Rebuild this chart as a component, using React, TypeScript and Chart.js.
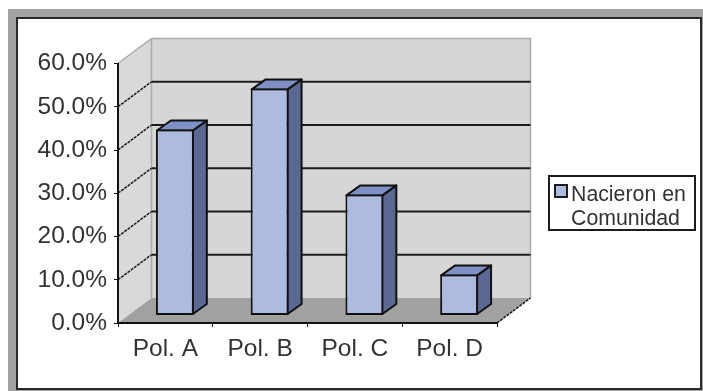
import React, { useEffect, useRef } from "react";
import { Chart, registerables } from "chart.js";

Chart.register(...registerables);

const categories = ["Pol. A", "Pol. B", "Pol. C", "Pol. D"];
const seriesValues = [43, 52.5, 28, 9.5];
const seriesName = ["Nacieron en", "Comunidad"];

const FONT = '"Liberation Sans", Arial, sans-serif';
const DEPTH = { x: 33.5, y: -25 };
const BAR_SHIFT = { x: 9.5, y: -7.5 };
const BAR_DEPTH = { x: 14, y: -10 };

const poly = (ctx: CanvasRenderingContext2D, pts: number[][], fill?: string, stroke?: string, lw = 2) => {
  ctx.beginPath();
  pts.forEach(([x, y], i) => (i ? ctx.lineTo(x, y) : ctx.moveTo(x, y)));
  ctx.closePath();
  if (fill) {
    ctx.fillStyle = fill;
    ctx.fill();
  }
  if (stroke) {
    ctx.strokeStyle = stroke;
    ctx.lineWidth = lw;
    ctx.lineJoin = "round";
    ctx.stroke();
  }
};

// Outer frame, the three walls of the box and the receding gridlines.
const box3d = {
  id: "box3d",
  beforeDraw(chart: any) {
    const { ctx, chartArea: a, scales, width, height } = chart;
    const d = DEPTH;
    ctx.save();
    ctx.fillStyle = "#a3a3a3";
    ctx.fillRect(8, 9, width - 8, height - 9);
    ctx.fillStyle = "#ffffff";
    ctx.fillRect(17, 18, 684, 371);
    ctx.strokeStyle = "#2a2a2a";
    ctx.lineWidth = 2;
    ctx.strokeRect(17, 18, 684, 371);

    const { left: l, right: r, top: t, bottom: b } = a;
    poly(ctx, [[l + d.x, t + d.y], [r + d.x, t + d.y], [r + d.x, b + d.y], [l + d.x, b + d.y]], "#d6d6d6");
    poly(ctx, [[l, t], [l + d.x, t + d.y], [l + d.x, b + d.y], [l, b]], "#d9d9d9");
    poly(ctx, [[l, b], [l + d.x, b + d.y], [r + d.x, b + d.y], [r, b]], "#a1a1a1");

    ctx.strokeStyle = "#ababab";
    ctx.lineWidth = 1.5;
    ctx.beginPath();
    ctx.moveTo(l, t);
    ctx.lineTo(l + d.x, t + d.y);
    ctx.lineTo(r + d.x, t + d.y);
    ctx.lineTo(r + d.x, b + d.y);
    ctx.moveTo(l + d.x, t + d.y);
    ctx.lineTo(l + d.x, b + d.y);
    ctx.stroke();

    scales.y.ticks.forEach((tick: any) => {
      if (tick.value === 0 || tick.value === 60) return;
      const y = scales.y.getPixelForValue(tick.value);
      ctx.strokeStyle = "#1c1c1c";
      ctx.lineWidth = 1.5;
      ctx.setLineDash([3, 1]);
      ctx.beginPath();
      ctx.moveTo(l, y);
      ctx.lineTo(l + d.x, y + d.y);
      ctx.stroke();
      ctx.setLineDash([]);
      ctx.lineWidth = 2;
      ctx.beginPath();
      ctx.moveTo(l + d.x, y + d.y);
      ctx.lineTo(r + d.x, y + d.y);
      ctx.stroke();
    });

    ctx.strokeStyle = "#1c1c1c";
    ctx.lineWidth = 1.5;
    ctx.setLineDash([3, 1]);
    ctx.beginPath();
    ctx.moveTo(r, b);
    ctx.lineTo(r + d.x, b + d.y);
    ctx.stroke();
    ctx.restore();
  },
  // The bars stand a little behind the front plane, each with a side and a top face.
  beforeDatasetDraw(chart: any, args: any) {
    const { ctx } = chart;
    ctx.save();
    ctx.translate(BAR_SHIFT.x, BAR_SHIFT.y);
    const e = BAR_DEPTH;
    args.meta.data.forEach((bar: any) => {
      const { x, y, base, width } = bar.getProps(["x", "y", "base", "width"], true);
      const x0 = x - width / 2 + 1;
      const x1 = x + width / 2 - 1;
      const top = y + 1;
      const bottom = base - 1;
      poly(ctx, [[x1, top], [x1 + e.x, top + e.y], [x1 + e.x, bottom + e.y], [x1, bottom]], "#5c6894", "#111111");
      poly(ctx, [[x0, top], [x0 + e.x, top + e.y], [x1 + e.x, top + e.y], [x1, top]], "#7f90c4", "#111111");
    });
  },
  afterDatasetDraw(chart: any) {
    chart.ctx.restore();
  },
  // Legend box with its two-line series name.
  afterDraw(chart: any) {
    const { ctx } = chart;
    ctx.save();
    ctx.fillStyle = "#ffffff";
    ctx.strokeStyle = "#1c1c1c";
    ctx.lineWidth = 2;
    ctx.fillRect(549, 176, 146, 54);
    ctx.strokeRect(549, 176, 146, 54);
    ctx.fillStyle = chart.data.datasets[0].backgroundColor;
    ctx.fillRect(555, 185, 12, 12);
    ctx.strokeRect(555, 185, 12, 12);
    ctx.fillStyle = "#333333";
    ctx.font = `21.3px ${FONT}`;
    ctx.textAlign = "left";
    ctx.textBaseline = "alphabetic";
    seriesName.forEach((line, i) => ctx.fillText(line, 571, 201 + i * 23.5));
    ctx.restore();
  },
};

export default function App() {
  const ref = useRef<HTMLCanvasElement>(null);

  useEffect(() => {
    const chart = new Chart(ref.current!, {
      type: "bar",
      data: {
        labels: categories,
        datasets: [
          {
            label: seriesName.join(" "),
            data: seriesValues,
            backgroundColor: "#aebbe0",
            borderColor: "#111111",
            borderWidth: 2,
            borderSkipped: false,
            barPercentage: 0.4,
            categoryPercentage: 1,
            clip: false,
          } as any,
        ],
      },
      options: {
        responsive: false,
        animation: false,
        layout: { padding: { top: 63.5, right: 206, bottom: 0, left: 0 } },
        plugins: { legend: { display: false }, title: { display: false }, tooltip: { enabled: false } },
        scales: {
          x: {
            afterFit: (s: any) => {
              s.height = 68;
            },
            grid: { drawOnChartArea: false, tickLength: 4, tickColor: "#111111", offset: true },
            border: { color: "#111111", width: 2 },
            ticks: { color: "#333333", font: { family: FONT, size: 24.5 }, padding: 8, maxRotation: 0 },
          },
          y: {
            min: 0,
            max: 60,
            afterFit: (s: any) => {
              s.width = 118;
            },
            grid: { drawOnChartArea: false, tickLength: 4, tickColor: "#111111" },
            border: { color: "#111111", width: 2 },
            ticks: {
              stepSize: 10,
              color: "#333333",
              font: { family: FONT, size: 24.5 },
              padding: 7,
              callback: (v: any) => `${Number(v).toFixed(1)}%`,
            },
          },
        },
      },
      plugins: [box3d],
    } as any);
    return () => chart.destroy();
  }, []);

  return (
    <div style={{ position: "absolute", left: 0, top: 0, width: 703, height: 391 }}>
      <canvas ref={ref} width={703} height={391} style={{ display: "block" }} />
    </div>
  );
}
